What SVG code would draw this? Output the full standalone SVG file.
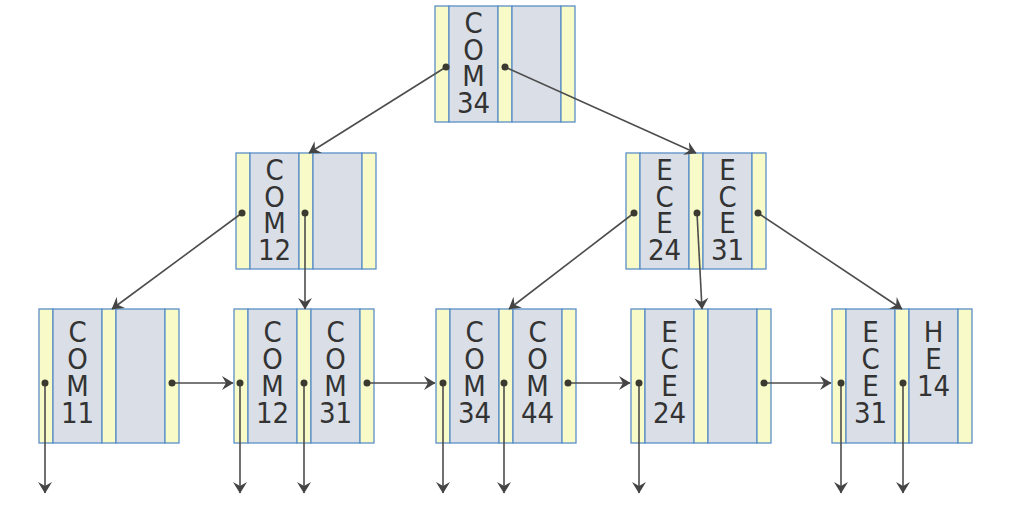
<svg xmlns="http://www.w3.org/2000/svg" width="1014" height="532" viewBox="0 0 1014 532">
  <defs>
    <style>
      .ptr{fill:#f8fbc8;stroke:#5a8fc6;stroke-width:1.3}
      .key{fill:#d9dee7;stroke:#5a8fc6;stroke-width:1.3}
      .lbl{font-family:"DejaVu Sans Condensed","DejaVu Sans",sans-serif;font-size:29px;fill:#333333;text-anchor:middle}
      .link{stroke:#4d4d4d;stroke-width:1.6;fill:none;marker-start:url(#dot);marker-end:url(#head)}
    </style>
    <marker id="dot" markerUnits="userSpaceOnUse" viewBox="-4 -4 8 8" markerWidth="8" markerHeight="8" refX="0" refY="0">
      <circle r="3.5" fill="#3a3a30"/>
    </marker>
    <marker id="head" markerUnits="userSpaceOnUse" viewBox="0 0 12 15" markerWidth="12" markerHeight="15" refX="11" refY="7.5" orient="auto">
      <path d="M0,0.5 L11.5,7.5 L0,14.5 L4,7.5 z" fill="#444"/>
    </marker>
    <!-- inner node frame: pointer | key | pointer | key | pointer -->
    <g id="inner">
      <rect class="ptr" x="0" y="0" width="14" height="116"/>
      <rect class="key" x="14" y="0" width="49" height="116"/>
      <rect class="ptr" x="63" y="0" width="14" height="116"/>
      <rect class="key" x="77" y="0" width="49" height="116"/>
      <rect class="ptr" x="126" y="0" width="14" height="116"/>
    </g>
    <!-- leaf node frame, taller -->
    <g id="leaf">
      <rect class="ptr" x="0" y="0" width="14" height="134"/>
      <rect class="key" x="14" y="0" width="49" height="134"/>
      <rect class="ptr" x="63" y="0" width="14" height="134"/>
      <rect class="key" x="77" y="0" width="49" height="134"/>
      <rect class="ptr" x="126" y="0" width="14" height="134"/>
    </g>
  </defs>
  <rect width="1014" height="532" fill="#ffffff"/>

  <g id="node-root" transform="translate(435,6)">
    <use href="#inner"/>
    <text class="lbl" y="27"><tspan x="38.5">C</tspan><tspan x="38.5" dy="26.7">O</tspan><tspan x="38.5" dy="26.7">M</tspan><tspan x="38.5" dy="26.7">34</tspan></text>
  </g>

  <g id="node-com12" transform="translate(236,153)">
    <use href="#inner"/>
    <text class="lbl" y="27"><tspan x="38.5">C</tspan><tspan x="38.5" dy="26.7">O</tspan><tspan x="38.5" dy="26.7">M</tspan><tspan x="38.5" dy="26.7">12</tspan></text>
  </g>

  <g id="node-ece24-ece31" transform="translate(626,153)">
    <use href="#inner"/>
    <text class="lbl" y="27"><tspan x="38.5">E</tspan><tspan x="38.5" dy="26.7">C</tspan><tspan x="38.5" dy="26.7">E</tspan><tspan x="38.5" dy="26.7">24</tspan></text>
    <text class="lbl" y="27"><tspan x="101.5">E</tspan><tspan x="101.5" dy="26.7">C</tspan><tspan x="101.5" dy="26.7">E</tspan><tspan x="101.5" dy="26.7">31</tspan></text>
  </g>

  <g id="leaf-com11" transform="translate(39,309)">
    <use href="#leaf"/>
    <text class="lbl" y="33"><tspan x="38.5">C</tspan><tspan x="38.5" dy="27">O</tspan><tspan x="38.5" dy="27">M</tspan><tspan x="38.5" dy="27">11</tspan></text>
  </g>

  <g id="leaf-com12-com31" transform="translate(234,309)">
    <use href="#leaf"/>
    <text class="lbl" y="33"><tspan x="38.5">C</tspan><tspan x="38.5" dy="27">O</tspan><tspan x="38.5" dy="27">M</tspan><tspan x="38.5" dy="27">12</tspan></text>
    <text class="lbl" y="33"><tspan x="101.5">C</tspan><tspan x="101.5" dy="27">O</tspan><tspan x="101.5" dy="27">M</tspan><tspan x="101.5" dy="27">31</tspan></text>
  </g>

  <g id="leaf-com34-com44" transform="translate(436,309)">
    <use href="#leaf"/>
    <text class="lbl" y="33"><tspan x="38.5">C</tspan><tspan x="38.5" dy="27">O</tspan><tspan x="38.5" dy="27">M</tspan><tspan x="38.5" dy="27">34</tspan></text>
    <text class="lbl" y="33"><tspan x="101.5">C</tspan><tspan x="101.5" dy="27">O</tspan><tspan x="101.5" dy="27">M</tspan><tspan x="101.5" dy="27">44</tspan></text>
  </g>

  <g id="leaf-ece24" transform="translate(631,309)">
    <use href="#leaf"/>
    <text class="lbl" y="33"><tspan x="38.5">E</tspan><tspan x="38.5" dy="27">C</tspan><tspan x="38.5" dy="27">E</tspan><tspan x="38.5" dy="27">24</tspan></text>
  </g>

  <g id="leaf-ece31-he14" transform="translate(832,309)">
    <use href="#leaf"/>
    <text class="lbl" y="33"><tspan x="38.5">E</tspan><tspan x="38.5" dy="27">C</tspan><tspan x="38.5" dy="27">E</tspan><tspan x="38.5" dy="27">31</tspan></text>
    <text class="lbl" y="33"><tspan x="101.5">H</tspan><tspan x="101.5" dy="27">E</tspan><tspan x="101.5" dy="27">14</tspan></text>
  </g>

  <g id="connectors">
    <!-- root to children -->
    <path class="link" d="M446,67 L309,153"/>
    <path class="link" d="M505,67 L696,153"/>
    <!-- left inner node to leaves -->
    <path class="link" d="M242,213 L112,309"/>
    <path class="link" d="M305,213 L305,309"/>
    <!-- right inner node to leaves -->
    <path class="link" d="M634,213 L509,309"/>
    <path class="link" d="M697,213 L702,309"/>
    <path class="link" d="M758,213 L902,309"/>
    <!-- leaf sibling chain -->
    <path class="link" d="M172,383 L233,383"/>
    <path class="link" d="M367,383 L435,383"/>
    <path class="link" d="M568,383 L630,383"/>
    <path class="link" d="M764,383 L831,383"/>
    <!-- record pointers -->
    <path class="link" d="M45,383 L45,493"/>
    <path class="link" d="M240,383 L240,493"/>
    <path class="link" d="M304,383 L304,493"/>
    <path class="link" d="M443,383 L443,493"/>
    <path class="link" d="M504,383 L504,493"/>
    <path class="link" d="M639,383 L639,493"/>
    <path class="link" d="M841,383 L841,493"/>
    <path class="link" d="M903,383 L903,493"/>
  </g>
</svg>
